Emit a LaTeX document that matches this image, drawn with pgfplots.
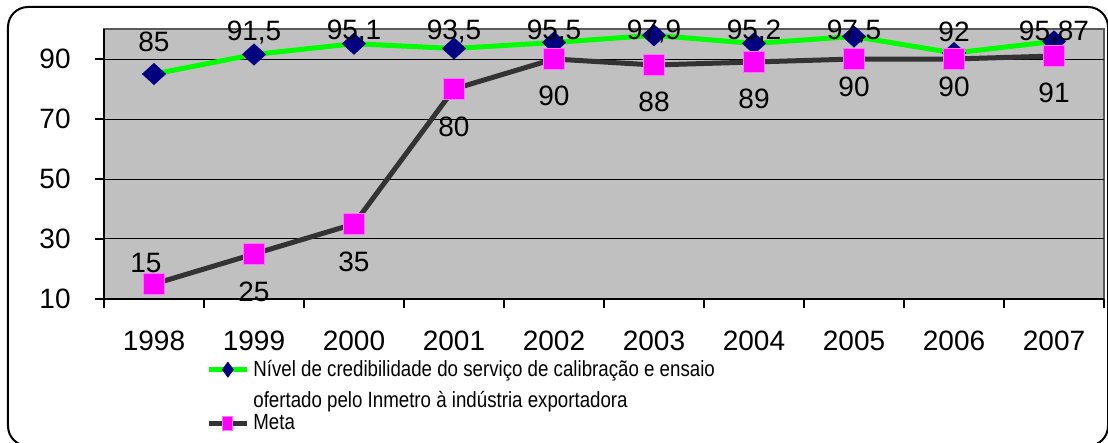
\documentclass[border=0pt]{standalone}
\usepackage{pgfplots}
\usepackage{pgfplotstable}
\pgfplotsset{compat=1.18}
\usepackage{fontspec}
\setmainfont{Liberation Sans}
\newfontfamily\legfont[FakeStretch=0.85]{Liberation Sans}

\definecolor{plotbg}{RGB}{192,192,192}
\definecolor{limeline}{RGB}{0,255,0}
\definecolor{navymark}{RGB}{0,0,128}
\definecolor{metaline}{RGB}{51,51,51}
\definecolor{metamark}{RGB}{255,0,255}

% dy/dx: where the data label sits relative to its point (pt)
\pgfplotstableread{
x  y      lab    dy     dx
1  85     85     16     0
2  91.5   91,5   10.75  0
3  95.1   95,1   5.85   0
4  93.5   93,5   8.25   0
5  95.5   95,5   5.25   0
6  97.9   97,9   1.65   0
7  95.2   95,2   5.7    0
8  97.5   97,5   2.25   0
9  92     92     10.5   0
10 95.87  95,87  4.2    0
}\credib
\pgfplotstableread{
x  y   lab  dy     dx
1  15  15   10.5   -4
2  25  25   -19    0
3  35  35   -19    0
4  80  80   -19    0
5  90  90   -18.5  0
6  88  88   -18.5  0
7  89  89   -18.5  0
8  90  90   -14    0
9  90  90   -14    0
10 91  91   -18.5  0
}\metatab

\pgfplotsset{
    labelled/.style={
        nodes near coords,
        point meta=explicit symbolic,
        visualization depends on={\thisrow{dy} \as \labdy},
        visualization depends on={\thisrow{dx} \as \labdx},
        every node near coord/.append style={anchor=center, text=black,
            yshift=\labdy, xshift=\labdx, font=\fontsize{14}{16}\selectfont},
    },
}

\begin{document}
\begin{tikzpicture}
\useasboundingbox (-52pt,-72pt) rectangle (502pt,149.5pt);
\draw[line width=1pt, rounded corners=10pt] (-48pt,-73.5pt) rectangle (502pt,146pt);
\begin{axis}[
    at={(0pt,0pt)}, anchor=south west,
    scale only axis, width=500pt, height=135pt,
    xmin=0.5, xmax=10.5, ymin=10, ymax=100,
    clip=false,
    axis lines=left,
    axis line style={-, black, line width=0.8pt},
    axis background/.style={fill=plotbg, draw=gray!70!black, line width=0.8pt},
    xtick={0.5,1.5,...,10.5},
    x tick label as interval,
    xticklabels={1998,1999,2000,2001,2002,2003,2004,2005,2006,2007},
    ytick={10,30,50,70,90},
    ymajorgrids,
    grid style={black, line width=0.5pt},
    tick align=outside,
    major tick length=4.5pt,
    tick style={black, line width=0.6pt},
    ticklabel style={font=\fontsize{14}{16}\selectfont},
    xticklabel style={anchor=center, yshift=-16.5pt},
    yticklabel style={anchor=east, inner sep=0pt, xshift=-12pt},
    /pgf/number format/assume math mode=true,
    legend cell align=left,
    legend style={at={(0.096,-0.195)}, anchor=north west, draw=none, fill=none,
        font=\legfont\fontsize{11}{12.5}\selectfont, row sep=0pt},
    legend image code/.code={
        \draw[mark repeat=2, mark phase=2,
              every mark/.append style={xscale=0.47, yscale=0.71}]
        plot coordinates {(0pt,0pt) (9.5pt,0pt) (19pt,0pt)};},
]
\addplot[limeline, line width=2.5pt, mark=diamond*, mark size=5.25pt,
    mark options={xscale=1.46, fill=navymark, draw=navymark, line width=0.4pt},
    labelled]
    table[x=x, y=y, meta=lab] {\credib};
\addlegendentry{Nível de credibilidade do serviço de calibração e ensaio}
\addlegendimage{empty legend}
\addlegendentry{\raisebox{-2pt}[\height][0pt]{ofertado pelo Inmetro à indústria exportadora}}
\addplot[metaline, line width=2.5pt, mark=square*, mark size=5.25pt,
    mark options={fill=metamark, draw=metamark!55!white, line width=0.5pt},
    labelled]
    table[x=x, y=y, meta=lab] {\metatab};
\addlegendentry{Meta}
\end{axis}
\end{tikzpicture}
\end{document}
